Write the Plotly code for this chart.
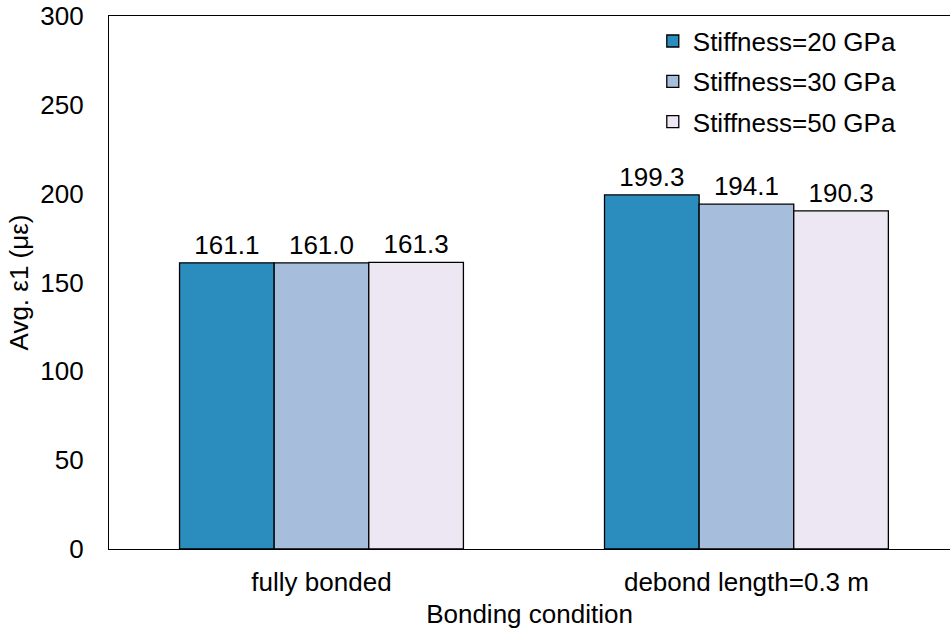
import plotly.graph_objects as go

categories = ["fully bonded", "debond length=0.3 m"]
series_names = ["Stiffness=20 GPa", "Stiffness=30 GPa", "Stiffness=50 GPa"]
values_20 = [161.1, 199.3]
values_30 = [161.0, 194.1]
values_50 = [161.3, 190.3]
colors = ["#2B8CBE", "#A6BDDB", "#ECE7F2"]
y_ticks = [0, 50, 100, 150, 200, 250, 300]

FONT = "Liberation Sans, Arial, sans-serif"
FS = 26
fig = go.Figure()
for i, (name, vals) in enumerate(zip(series_names, [values_20, values_30, values_50])):
    fig.add_trace(go.Bar(
        x=categories, y=vals, name=name,
        marker=dict(color=colors[i], line=dict(color="black", width=1.3)),
        texttemplate="%{y:.1f}", textposition="outside",
        textfont=dict(size=FS, color="black", family=FONT),
        cliponaxis=False, legendgroup=name,
    ))

fig.update_layout(
    width=950, height=632,
    margin=dict(l=109, r=0, t=16, b=83, autoexpand=False),
    paper_bgcolor="white", plot_bgcolor="white",
    barmode="group", bargap=0.332, bargroupgap=0,
    font=dict(family=FONT, size=FS, color="black"),
    showlegend=True,
    legend=dict(x=0.6466, y=0.997, xanchor="left", yanchor="top",
                font=dict(size=FS, family=FONT, color="black"),
                bgcolor="rgba(0,0,0,0)", tracegroupgap=3.5, traceorder="grouped",
                itemwidth=30),
    xaxis=dict(range=[-0.5, 1.479], showline=True, mirror=True, linecolor="black",
               linewidth=1.3, ticks="", showgrid=False, tickfont=dict(size=FS),
               ticklabelstandoff=10, automargin=False,
               title=dict(text="Bonding condition", font=dict(size=FS), standoff=8)),
    yaxis=dict(range=[0, 300], tickvals=y_ticks, showline=True, linecolor="black",
               linewidth=1.3, ticks="", showgrid=False, zeroline=False,
               tickfont=dict(size=FS), ticklabelstandoff=19,
               ticklabeloverflow="allow", automargin=False,
               title=dict(text="Avg. ε1 (με)", font=dict(size=FS), standoff=4)),
)

fig.write_html(
    "out.html",
    config={"displayModeBar": False},
    post_script="document.body.style.margin='0';document.body.style.overflow='hidden';",
)
